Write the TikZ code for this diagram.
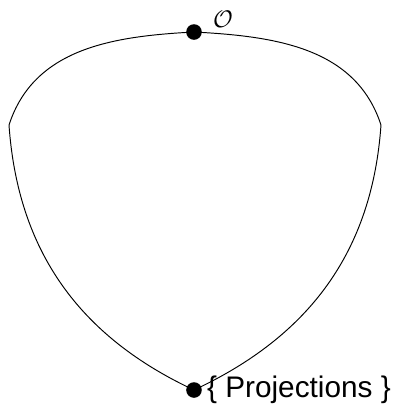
\documentclass[tikz,border=0pt]{standalone}
\usepackage{fontspec}
\setsansfont{Liberation Sans}
\usetikzlibrary{positioning}

\begin{document}
\begin{tikzpicture}[x=0.4167pt, y=-0.4167pt,
  pt/.style={circle, fill, inner sep=0pt, minimum size=6.5pt}]
\useasboundingbox (0,0) rectangle (394,417);
\node[pt] (top) at (194,32) {};
\node[pt] (bottom) at (194,390) {};
\coordinate (left) at (9,125);
\coordinate (right) at (381,125);
\draw (top.center) to[out=183, in=72] (left) to[out=-86, in=155] (bottom.center);
\draw (top.center) to[out=-3, in=108] (right) to[out=-94, in=25] (bottom.center);
\node[above right=-4pt and 2pt of top] (orig) {$\mathcal{O}$};
\node[right=-1.5pt of bottom, font=\sffamily\fontsize{12.4}{14}\selectfont] (proj) {\{ Projections \}};
\end{tikzpicture}
\end{document}
